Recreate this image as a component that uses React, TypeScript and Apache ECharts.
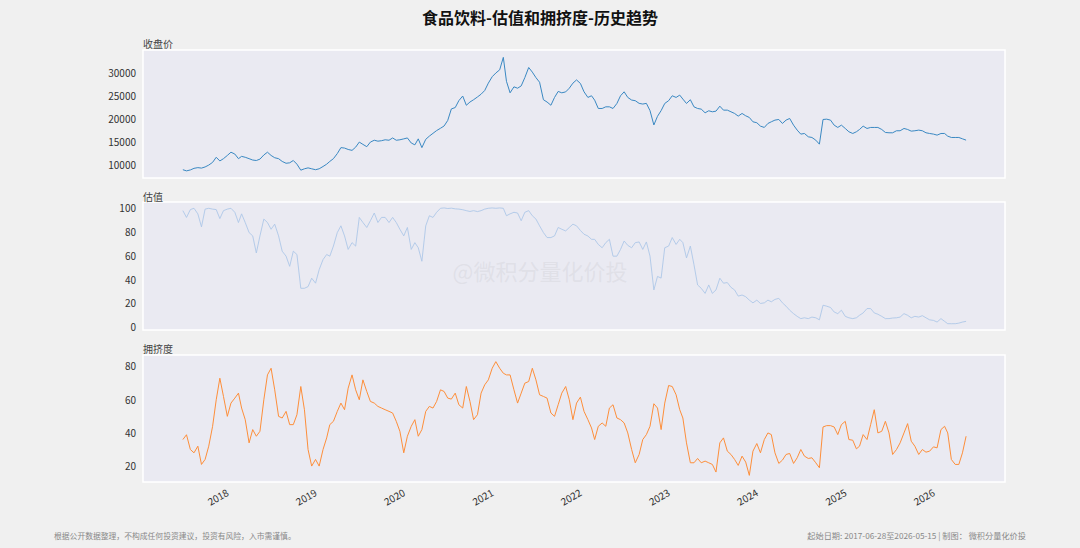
import React, { useEffect, useRef } from "react";
import * as echarts from "echarts";

// ---- data: semi-monthly samples (1st and 16th of each month), from 2017-07 to 2026-05 ----
const START_YEAR = 2017;
const START_MONTH_INDEX = 6; // July (0-based)

const close2017 = [8800, 8550, 8750, 9100, 9250, 9150, 9400, 9800, 10400, 11500, 10700, 11200];
const close2018 = [11900, 12600, 12200, 11200, 11700, 11500, 11200, 10900, 10800, 11100, 12000, 12600, 11900, 11400, 11200, 10600, 10200, 10300, 10800, 10000, 8700, 9000, 9200, 9000];
const close2019 = [8800, 9000, 9500, 10000, 10600, 11200, 12300, 13600, 13500, 13200, 13000, 13700, 14800, 14300, 13800, 14800, 15200, 15000, 15100, 15300, 15200, 15700, 15200, 15300];
const close2020 = [15500, 15700, 14600, 14200, 15500, 13600, 15400, 16100, 16700, 17300, 17800, 18300, 19500, 22000, 22300, 23800, 24800, 22800, 23500, 24000, 24600, 25200, 26000, 27600];
const close2021 = [29000, 29800, 30500, 33200, 28000, 25500, 26800, 26500, 27000, 28800, 31000, 30000, 28800, 27800, 24000, 23500, 22800, 24500, 25800, 25500, 25700, 26500, 27600, 28300];
const close2022 = [27540, 25720, 24500, 24860, 23910, 22100, 22100, 22460, 22460, 22100, 23190, 24860, 25720, 24500, 23930, 23790, 23210, 23060, 23210, 21630, 18520, 20400, 21630, 23190];
const close2023 = [23790, 24860, 24500, 25000, 24140, 23190, 24000, 22460, 22100, 21960, 21160, 21600, 21380, 21520, 22600, 21740, 21740, 21380, 21020, 20440, 21020, 20510, 20150, 19210];
const close2024 = [19000, 18270, 17980, 18850, 19210, 19570, 19710, 18850, 19570, 19930, 18480, 17400, 16530, 16670, 15950, 15800, 15220, 14350, 19710, 19780, 19570, 18480, 17980, 18480];
const close2025 = [17760, 17040, 16670, 17040, 17540, 18270, 17760, 17980, 17980, 17980, 17540, 16890, 16820, 16820, 17260, 17260, 17760, 17540, 17180, 17260, 17400, 17260, 16820, 16670];
const close2026 = [16530, 16310, 16670, 16670, 16090, 15800, 15800, 15800, 15510, 15220];

const val2017 = [97.7, 92, 98.6, 99.7, 95, 84, 99, 99.7, 99, 98.6, 91, 97.7];
const val2018 = [99, 99.7, 96.3, 87.7, 95, 87.7, 79.2, 76.4, 62, 76.4, 90.6, 87.7, 82, 86.3, 76.4, 63.5, 59.3, 50.7, 63.5, 60.7, 32.2, 32.2, 33.6, 40.7];
const val2019 = [36.5, 47.9, 56.4, 60.7, 59.3, 67.8, 79.2, 84.9, 76.4, 65, 70.7, 67.8, 92, 87.7, 83.5, 89.2, 95.7, 87.7, 92, 92, 87.7, 92, 87.7, 82];
const val2020 = [76.4, 83.5, 65, 70.7, 66.4, 55, 84.9, 93.4, 92, 96.3, 99.7, 100, 99.5, 99.8, 99.2, 99, 98.5, 97.7, 97, 97.7, 96.9, 97.7, 99, 99.7];
const val2021 = [100, 99.7, 100, 99.7, 93.4, 95, 96.3, 95.7, 89.2, 96.3, 97.7, 93.4, 90.6, 84.9, 79.2, 75, 75, 76.4, 83.5, 82, 80.6, 83.5, 86.3, 84.9];
const val2022 = [81, 77.8, 76.3, 73.5, 73.5, 69.2, 66.4, 70.7, 73.5, 59.3, 59.3, 65, 72.1, 68.4, 66.4, 70.7, 71.3, 65, 71.3, 59.3, 30.8, 42.2, 40.8, 66.4];
const val2023 = [67.8, 75, 69.2, 73.5, 70.7, 57.8, 67.8, 52.1, 35, 32.2, 27.9, 35, 27.9, 30.8, 40.7, 36.5, 37, 33, 30.8, 25.6, 26.5, 25.1, 22.2, 19.9];
const val2024 = [22.2, 19.4, 19.9, 22.2, 20.8, 22.8, 23.7, 19.9, 17.1, 13.7, 10.8, 8.5, 6.6, 7.3, 6.6, 7.9, 7.3, 5.6, 17.9, 17.1, 16, 12.2, 10.8, 13.7];
const val2025 = [8.5, 7.3, 6.6, 7.3, 9.4, 11.4, 15.1, 15.1, 11.4, 10.3, 8.5, 6.6, 6.6, 7.1, 7.3, 7.9, 10.8, 9.4, 7.3, 8.5, 7.9, 9.1, 7.3, 5.6];
const val2026 = [5.1, 3.7, 6.6, 4.3, 2.3, 2.3, 2.3, 2.8, 3.7, 4.3];

const crowd2017 = [35.6, 38.5, 29.6, 27.6, 31.6, 20.6, 23.6, 31.6, 43.6, 59.6, 72.6, 61.6];
const crowd2018 = [49.6, 57.6, 60.6, 63.6, 54.6, 47.6, 33.6, 41.6, 37.6, 40.6, 59.6, 74.6, 78.6, 65.6, 49.6, 48.6, 52.6, 44.6, 44.6, 50.6, 67.6, 53.6, 29.6, 19.6];
const crowd2019 = [23.6, 19.6, 29.6, 36.6, 44.6, 46.6, 52.6, 57.6, 53.6, 66.6, 74.6, 65.6, 59.6, 71.6, 64.6, 58.6, 57.6, 55.6, 54.6, 53.6, 52.6, 51.6, 46.6, 40.6];
const crowd2020 = [27.6, 37.6, 43.6, 47.6, 37.6, 41.6, 52.6, 55.6, 54.6, 58.6, 65.6, 64.6, 60.6, 60, 63.6, 56.6, 54.6, 67.6, 58.6, 47.6, 50.6, 63.6, 68.6, 71.6];
const crowd2021 = [78.6, 82.6, 78.6, 75.6, 74.6, 74.6, 65.6, 57.6, 63.6, 69.6, 70.6, 78.6, 71.6, 62.6, 61.6, 60.6, 51.6, 49.6, 56.6, 63.6, 67.6, 59.6, 47.6, 57.6];
const crowd2022 = [61.2, 52.6, 47.6, 42.6, 35.6, 43.6, 45.6, 43.6, 54.6, 56.6, 48.6, 47.6, 45.6, 39.6, 29.6, 21.6, 26.6, 35.6, 38.6, 43.6, 57.2, 54.6, 41.6, 57.6];
const crowd2023 = [68.2, 67.6, 62.6, 53.6, 48.6, 33.6, 21.6, 21.6, 24.2, 21.6, 22.6, 21.6, 20.6, 16, 33.6, 36.6, 28.6, 26.6, 23.6, 20, 25.6, 22, 14, 28.6];
const crowd2024 = [33.2, 27.6, 35.6, 39.6, 38.6, 27.6, 21.2, 23.2, 26.6, 27.2, 21.2, 24.6, 29.6, 25.6, 24.2, 24.6, 21.6, 18.6, 43.2, 44, 44, 43.2, 38.6, 44.6];
const crowd2025 = [46.6, 35.6, 35.2, 30, 31.6, 38.6, 35.6, 44.6, 53.6, 39.6, 40.6, 46.6, 39.6, 26.6, 29.6, 33.6, 39.6, 45.2, 34.6, 31.6, 26.6, 29.6, 28, 28.6];
const crowd2026 = [31.2, 30.6, 41.6, 43.6, 39.6, 23.6, 20.6, 20.6, 27.6, 37.6];

const yearLabels = ["2018", "2019", "2020", "2021", "2022", "2023", "2024", "2025", "2026"];
const priceTicks = [10000, 15000, 20000, 25000, 30000];
const valuationTicks = [0, 20, 40, 60, 80, 100];
const crowdTicks = [20, 40, 60, 80];

const closeValues = [...close2017, ...close2018, ...close2019, ...close2020, ...close2021, ...close2022, ...close2023, ...close2024, ...close2025, ...close2026];
const valuationValues = [...val2017, ...val2018, ...val2019, ...val2020, ...val2021, ...val2022, ...val2023, ...val2024, ...val2025, ...val2026];
const crowdValues = [...crowd2017, ...crowd2018, ...crowd2019, ...crowd2020, ...crowd2021, ...crowd2022, ...crowd2023, ...crowd2024, ...crowd2025, ...crowd2026];

function sampleDate(i: number): string {
  const mi = START_MONTH_INDEX + Math.floor(i / 2);
  const y = START_YEAR + Math.floor(mi / 12);
  const m = (mi % 12) + 1;
  const d = i % 2 === 0 ? 1 : 16;
  return `${y}-${String(m).padStart(2, "0")}-${String(d).padStart(2, "0")}`;
}

const FONT = '"Noto Sans CJK SC", "Noto Sans", sans-serif';

export default function App() {
  const ref = useRef<HTMLDivElement>(null);

  useEffect(() => {
    document.body.style.margin = "0";
    if (!ref.current) return;
    const chart = echarts.init(ref.current, undefined, { renderer: "svg" });

    const toPairs = (vals: number[]) => vals.map((v, i) => [sampleDate(i), v]);

    const gridBase = {
      left: 143,
      right: 75,
      show: true,
      backgroundColor: "#eaeaf2",
      borderColor: "#ffffff",
      borderWidth: 1.5,
    };
    const grids = [
      { ...gridBase, top: 50, height: 128 },
      { ...gridBase, top: 202, height: 128 },
      { ...gridBase, top: 355, height: 127 },
    ];

    const yearSet = new Set(yearLabels);
    const DAY = 24 * 3600 * 1000;
    const xAxes = [0, 1, 2].map((gi) => ({
      type: "time",
      gridIndex: gi,
      min: "2017-01-17",
      max: "2026-10-24",
      minInterval: 365 * DAY,
      maxInterval: 366 * DAY,
      axisLine: { show: false },
      axisTick: { show: false },
      splitLine: { show: false },
      axisLabel:
        gi === 2
          ? {
              show: true,
              rotate: 30,
              margin: 9,
              fontSize: 10,
              color: "#333",
              fontFamily: FONT,
              showMinLabel: false,
              showMaxLabel: false,
              formatter: (v: number) => {
                const d = new Date(v);
                const y = String(d.getFullYear());
                return d.getMonth() === 0 && d.getDate() === 1 && yearSet.has(y) ? y : "";
              },
            }
          : { show: false },
    }));

    const yLabel = (ticks: number[]) => ({
      fontSize: 10,
      color: "#333",
      margin: 7,
      fontFamily: FONT,
      showMinLabel: true,
      showMaxLabel: true,
      formatter: (v: number) => (ticks.includes(v) ? String(v) : ""),
    });
    const yBase = {
      type: "value",
      axisLine: { show: false },
      axisTick: { show: false },
      splitLine: { show: false },
    };
    const yAxes = [
      { ...yBase, gridIndex: 0, min: 7000, max: 34800, interval: 1000, axisLabel: yLabel(priceTicks) },
      { ...yBase, gridIndex: 1, min: -3, max: 105, interval: 1, axisLabel: yLabel(valuationTicks) },
      { ...yBase, gridIndex: 2, min: 10, max: 86.6, interval: 2, axisLabel: yLabel(crowdTicks) },
    ];

    const text = (t: string, x: number, y: number, opts: any) => ({
      type: "text",
      x,
      y,
      z: 10,
      style: {
        text: t,
        fontFamily: FONT,
        fontSize: 10,
        fill: "#444",
        align: "left",
        verticalAlign: "middle",
        ...opts,
      },
    });

    chart.setOption({
      animation: false,
      backgroundColor: "#f0f0f0",
      grid: grids,
      xAxis: xAxes,
      yAxis: yAxes,
      graphic: [
        text("食品饮料-估值和拥挤度-历史趋势", 540, 17, { fontSize: 16, fontWeight: "bold", fill: "#111", align: "center" }),
        text("收盘价", 143, 43, {}),
        text("估值", 143, 196, {}),
        text("拥挤度", 143, 348, {}),
        {
          type: "text",
          x: 540,
          y: 270,
          z: 1,
          style: {
            text: "@微积分量化价投",
            fontFamily: FONT,
            fontSize: 22,
            fill: "rgba(205,205,210,0.35)",
            align: "center",
            verticalAlign: "middle",
          },
        },
        text("根据公开数据整理，不构成任何投资建议，投资有风险，入市需谨慎。", 54, 535, { fontSize: 7.8, fill: "#888" }),
        text("起始日期: 2017-06-28至2026-05-15 | 制图： 微积分量化价投", 1026, 535, { fontSize: 8.2, fill: "#888", align: "right" }),
      ],
      series: [
        {
          type: "line",
          name: "收盘价",
          xAxisIndex: 0,
          yAxisIndex: 0,
          showSymbol: false,
          z: 3,
          lineStyle: { color: "#3a88c2", width: 1 },
          data: toPairs(closeValues),
        },
        {
          type: "line",
          name: "估值",
          xAxisIndex: 1,
          yAxisIndex: 1,
          showSymbol: false,
          z: 3,
          lineStyle: { color: "#aec7e8", width: 0.9 },
          data: toPairs(valuationValues),
        },
        {
          type: "line",
          name: "拥挤度",
          xAxisIndex: 2,
          yAxisIndex: 2,
          showSymbol: false,
          z: 3,
          lineStyle: { color: "#fd8e3a", width: 1 },
          data: toPairs(crowdValues),
        },
      ],
    });

    return () => chart.dispose();
  }, []);

  return <div ref={ref} style={{ width: 1080, height: 548, background: "#f0f0f0" }} />;
}
